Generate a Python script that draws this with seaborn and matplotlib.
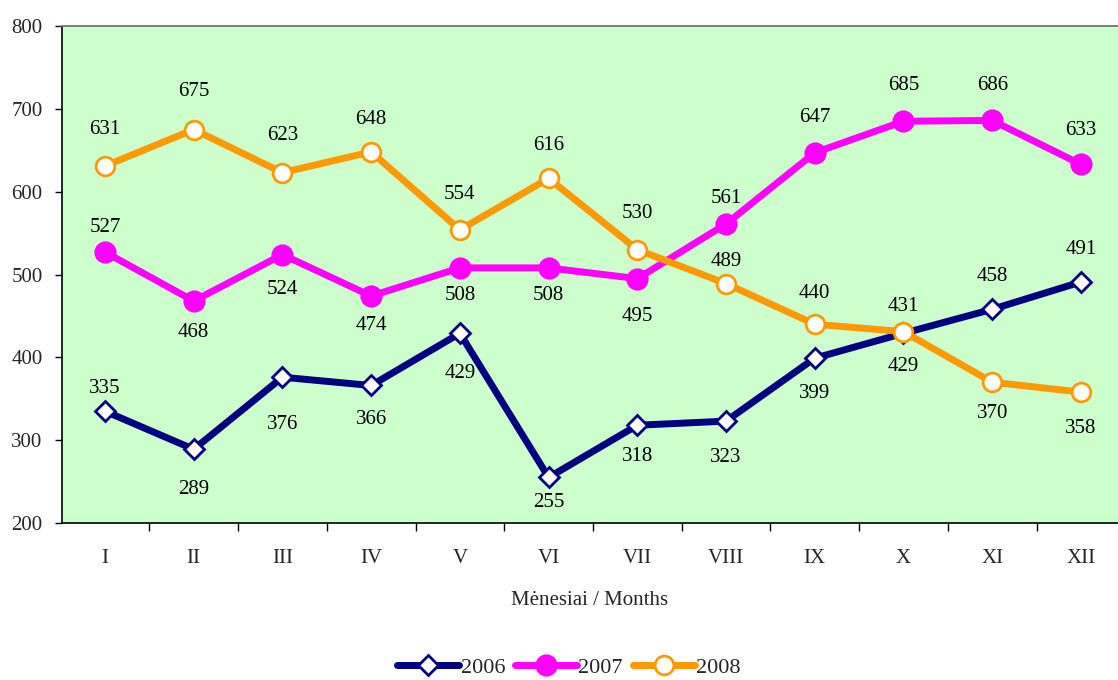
import matplotlib
matplotlib.use("Agg")
import matplotlib.pyplot as plt
import seaborn as sns
import pandas as pd
import numpy as np

months = ["I", "II", "III", "IV", "V", "VI", "VII", "VIII", "IX", "X", "XI", "XII"]
v2006 = [335, 289, 376, 366, 429, 255, 318, 323, 399, 429, 458, 491]
v2007 = [527, 468, 524, 474, 508, 508, 495, 561, 647, 685, 686, 633]
v2008 = [631, 675, 623, 648, 554, 616, 530, 489, 440, 431, 370, 358]

# label vertical offsets in pixels (negative = above the point)
off2006 = [-23, 40, 47, 34, 40, 25, 31, 36, 35, 33, -33, -32]
off2007 = [-25, 31, 35, 29, 28, 28, 38, -25, -35, -36, -35, -34]
off2008 = [-36, -38, -37, -32, -35, -33, -36, -22, -31, -25, 31, 36]

sns.set_theme(style="white")
plt.rcParams['font.family'] = ['Liberation Serif', 'DejaVu Serif']

DPI = 100
fig = plt.figure(figsize=(11.18, 6.80), dpi=DPI)
ax = fig.add_axes([62/1118, 1-523/680, 1-62/1118, (523-26)/680])
ax.set_facecolor("#CCFFCC")

x = np.arange(len(months))
series = [
    ("2006", v2006, off2006, "#000080", "D", "white", 10),
    ("2007", v2007, off2007, "#FF00FF", "o", "#FF00FF", 14),
    ("2008", v2008, off2008, "#FF9900", "o", "white", 13.5),
]
handles = []
for name, vals, offs, col, mk, mfc, ms in series:
    df = pd.DataFrame({"x": x, "y": vals})
    sns.lineplot(data=df, x="x", y="y", ax=ax, color=col, linewidth=5,
                 marker=mk, markersize=ms, markerfacecolor=mfc,
                 markeredgecolor=col, markeredgewidth=2, label=name, legend=False)
    handles.append(ax.get_lines()[-1])
    for xi, v, o in zip(x, vals, offs):
        ax.annotate(str(v), (xi, v), xytext=(0, -o * 72 / DPI), textcoords="offset points",
                    ha="center", va="center", fontsize=15, color="black")

ax.set_xlim(-0.4847, 11.418)
ax.set_ylim(200, 800)
ax.set_yticks([200, 300, 400, 500, 600, 700, 800])
ax.set_xticks(x)
ax.set_xticklabels(months)
ax.set_xticks(np.arange(0.5, 11.5, 1), minor=True)
ax.tick_params(axis="x", which="major", length=0, pad=19, labelsize=15)
ax.tick_params(axis="x", which="minor", length=6, width=1, color="black", direction="out", bottom=True)
ax.tick_params(axis="y", which="major", length=5, width=1, color="black", direction="out", left=True, labelsize=15, pad=9)
ax.set_xlabel("Mėnesiai / Months", fontsize=15, labelpad=16)
ax.set_ylabel("")
for s in ["left", "bottom"]:
    ax.spines[s].set_color("black")
    ax.spines[s].set_linewidth(1.2)
ax.spines["top"].set_color("#808080")
ax.spines["top"].set_linewidth(1.5)
ax.spines["right"].set_visible(False)

fig.legend(handles=handles, labels=["2006", "2007", "2008"], loc="center",
           bbox_to_anchor=(0.5 + 10/1118, 1-668/680), ncol=3, frameon=False, fontsize=16,
           handlelength=2.8, handletextpad=0.05, columnspacing=0.45)

fig.savefig("out.png", dpi=DPI)
